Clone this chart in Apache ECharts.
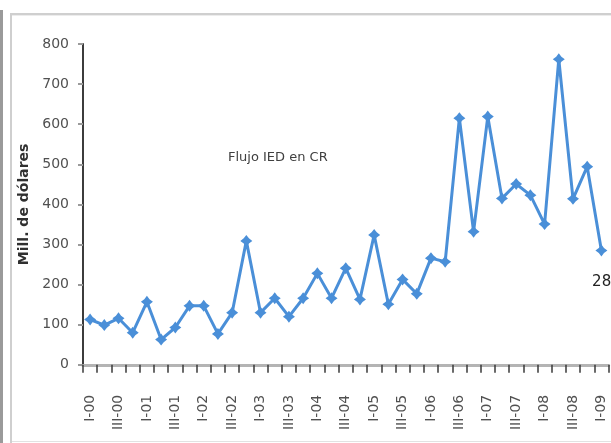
<!DOCTYPE html>
<html>
<head>
<meta charset="utf-8">
<title>Flujo IED en CR</title>
<script src="https://cdn.jsdelivr.net/npm/echarts@6/dist/echarts.min.js"></script>
<style>
  html, body { margin: 0; padding: 0; background: #ffffff; }
  #chart { width: 611px; height: 443px; }
</style>
</head>
<body>
<div id="chart"></div>
<script>
// Quarterly categories, I-00 … I-09
const quarters = [
  'I-00', 'II-00', 'III-00', 'IV-00',
  'I-01', 'II-01', 'III-01', 'IV-01',
  'I-02', 'II-02', 'III-02', 'IV-02',
  'I-03', 'II-03', 'III-03', 'IV-03',
  'I-04', 'II-04', 'III-04', 'IV-04',
  'I-05', 'II-05', 'III-05', 'IV-05',
  'I-06', 'II-06', 'III-06', 'IV-06',
  'I-07', 'II-07', 'III-07', 'IV-07',
  'I-08', 'II-08', 'III-08', 'IV-08',
  'I-09'
];

// Flujo de inversión extranjera directa (millones de dólares)
const flujoIED = [
  113, 99, 116, 80,
  157, 63, 93, 147,
  147, 77, 130, 309,
  130, 166, 120, 166,
  228, 166, 241, 163,
  324, 151, 213, 177,
  266, 257, 615, 332,
  619, 415, 451, 423,
  351, 762, 414, 494,
  285
];

const yTicks = { min: 0, max: 800, interval: 100 };

const blue = '#4a8fd8';
const starSymbol = 'path://M0,-6 L2.6,-2.6 L6,0 L2.6,2.6 L0,6 L-2.6,2.6 L-6,0 L-2.6,-2.6 Z';

const lastIndex = flujoIED.length - 1;
const seriesData = flujoIED.map((v, i) => {
  if (i !== lastIndex) return v;
  return {
    value: v,
    label: {
      show: true,
      position: 'bottom',
      offset: [5, 13],
      fontFamily: 'DejaVu Sans',
      fontSize: 15,
      color: '#222222'
    }
  };
});

const chart = echarts.init(document.getElementById('chart'), null, { renderer: 'canvas' });

chart.setOption({
  animation: false,
  backgroundColor: '#ffffff',
  grid: { left: 83, right: 2.5, top: 44, bottom: 78.2, containLabel: false },
  title: {
    text: 'Flujo IED en CR',
    left: 223,
    top: 146,
    textStyle: { fontFamily: 'DejaVu Sans', fontSize: 13, fontWeight: 'normal', color: '#404040' }
  },
  xAxis: {
    type: 'category',
    data: quarters,
    boundaryGap: true,
    axisLine: { lineStyle: { color: '#b4b4b4', width: 3 } },
    axisTick: { show: true, interval: 0, length: 8, lineStyle: { color: '#3a3a3a', width: 1.5 } },
    axisLabel: {
      interval: 1,
      rotate: 90,
      margin: 30,
      fontFamily: 'DejaVu Sans',
      fontSize: 14,
      color: '#505050'
    },
    splitLine: { show: false }
  },
  yAxis: {
    type: 'value',
    min: yTicks.min,
    max: yTicks.max,
    interval: yTicks.interval,
    name: 'Mill. de dólares',
    nameLocation: 'middle',
    nameRotate: 90,
    nameGap: 47,
    nameTextStyle: { fontFamily: 'DejaVu Sans', fontSize: 14, fontWeight: 'bold', color: '#303030' },
    axisLine: { show: true, lineStyle: { color: '#3c3c3c', width: 2 } },
    axisTick: { show: true, length: 5, lineStyle: { color: '#9a9a9a', width: 2 } },
    axisLabel: { margin: 14, fontFamily: 'DejaVu Sans', fontSize: 14, color: '#505050' },
    splitLine: { show: false }
  },
  series: [{
    type: 'line',
    data: seriesData,
    symbol: starSymbol,
    symbolSize: 12,
    showAllSymbol: true,
    lineStyle: { color: blue, width: 3 },
    itemStyle: { color: blue },
    label: { show: false },
    emphasis: { disabled: true }
  }],
  graphic: [
    { type: 'rect', left: 0, top: 10, shape: { width: 3, height: 433 }, style: { fill: '#9a9a9a' }, silent: true },
    { type: 'rect', left: 10, top: 13, shape: { width: 2, height: 430 }, style: { fill: '#cfcfcf' }, silent: true },
    { type: 'rect', left: 10, top: 13, shape: { width: 601, height: 2 }, style: { fill: '#cfcfcf' }, silent: true },
    { type: 'rect', left: 12, top: 15, shape: { width: 599, height: 1 }, style: { fill: '#ececec' }, silent: true },
    { type: 'rect', left: 12, top: 441, shape: { width: 599, height: 1 }, style: { fill: '#e2e2e2' }, silent: true }
  ]
});
</script>
</body>
</html>
